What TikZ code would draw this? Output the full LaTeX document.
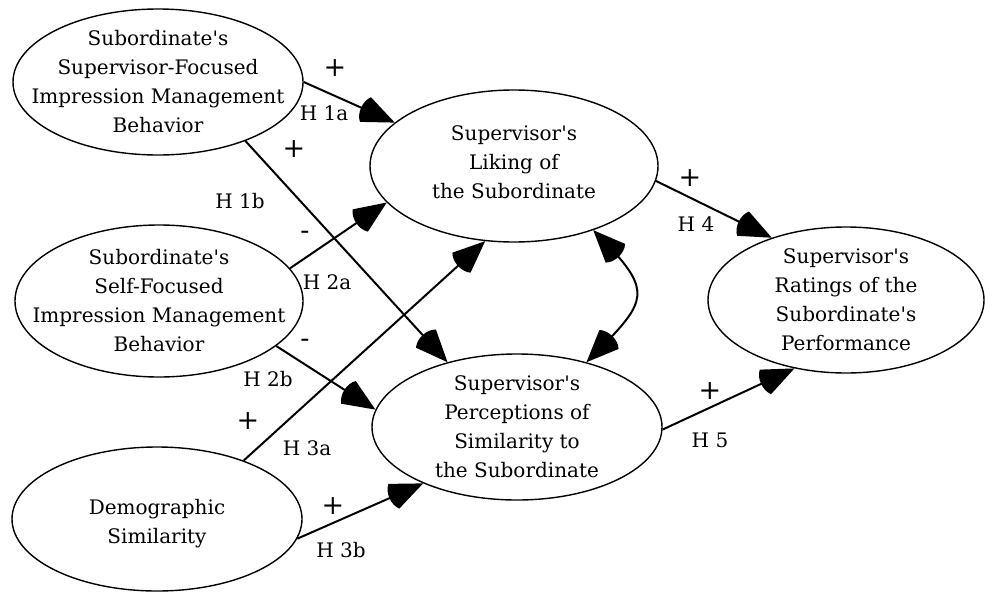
\documentclass[tikz,border=0pt]{standalone}
\usepackage{fontspec}
\setmainfont{DejaVu Serif}[Ligatures=TeXOff]
\usetikzlibrary{arrows.meta,bending,shapes.geometric}

\pgfdeclarearrow{
  name = Sector,
  defaults = {length = 32pt, width = 27pt},
  parameters = {\the\pgfarrowlength,\the\pgfarrowwidth},
  setup code = {
    \pgfarrowssettipend{0pt}
    \pgfarrowssetbackend{-1.1\pgfarrowlength}
    \pgfarrowssetlineend{-0.8\pgfarrowlength}
    \pgfarrowshullpoint{0pt}{0pt}
    \pgfarrowshullpoint{-1.2\pgfarrowlength}{0.5\pgfarrowwidth}
    \pgfarrowshullpoint{-1.2\pgfarrowlength}{-0.5\pgfarrowwidth}
    \pgfarrowssavethe\pgfarrowlength
    \pgfarrowssavethe\pgfarrowwidth
  },
  drawing code = {
    \pgfpathmoveto{\pgfpointorigin}
    \pgfpathlineto{\pgfpoint{-\pgfarrowlength}{0.5\pgfarrowwidth}}
    \pgfpathcurveto{\pgfpoint{-1.2\pgfarrowlength}{0.25\pgfarrowwidth}}{\pgfpoint{-1.2\pgfarrowlength}{-0.25\pgfarrowwidth}}{\pgfpoint{-\pgfarrowlength}{-0.5\pgfarrowwidth}}
    \pgfpathclose
    \pgfusepathqfill
  }
}

\begin{document}
\begin{tikzpicture}[x=1pt,y=-1pt,
  every node/.style={font=\fontsize{20}{29}\selectfont},
  latent/.style={draw, ellipse, line width=1.4pt, inner sep=0pt},
  txt/.style={align=center, inner sep=0pt},
  arr/.style={line width=2pt, -{Sector}},
  lbl/.style={inner sep=0pt},
  sign/.style={inner sep=0pt, font=\fontsize{27}{27}\selectfont}]
\useasboundingbox (0,0) rectangle (985,592);

\node[latent, minimum width=290pt, minimum height=146pt] (e1) at (158,82) {};
\node[txt] (t1) at (e1) {Subordinate's\\Supervisor-Focused\\Impression Management\\Behavior};
\node[latent, minimum width=288pt, minimum height=152pt] (e2) at (159,301) {};
\node[txt] (t2) at (e2) {Subordinate's\\Self-Focused\\Impression Management\\Behavior};
\node[latent, minimum width=290pt, minimum height=144pt] (e3) at (157,519) {};
\node[txt] (t3) at (157,524) {Demographic\\Similarity};
\node[latent, minimum width=288pt, minimum height=152pt] (e4) at (514,166) {};
\node[txt] (t4) at (514,162) {Supervisor's\\Liking of\\the Subordinate};
\node[latent, minimum width=290pt, minimum height=146pt] (e5) at (517,427) {};
\node[txt] (t5) at (e5) {Supervisor's\\Perceptions of\\Similarity to\\the Subordinate};
\node[latent, minimum width=276pt, minimum height=146pt] (e6) at (846,300) {};
\node[txt] (t6) at (e6) {Supervisor's\\Ratings of the\\Subordinate's\\Performance};

\draw[arr] (e1.0) -- (e4.160);
\draw[arr] (e1.-34) -- (e5.137);
\draw[arr] (e2.14) -- (e4.-164);
\draw[arr] (e2.-21) -- (e5.173);
\draw[arr] (e3.34) -- (e4.-111);
\draw[arr] (e3.-8.5) -- (e5.-149);
\draw[arr] (e4.-6) -- (e6.140);
\draw[arr] (e5.-1) -- (e6.-127);
\draw[line width=2pt, {Sector[flex]}-{Sector[flex]}] (e4.-39) to[out=-45,in=45,looseness=1.73] (e5.43);

\node[sign] (p1a) at (335,68) {+};
\node[lbl] (h1a) at (324,113) {H 1a};
\node[sign] (p1b) at (294,149) {+};
\node[lbl] (h1b) at (240,201) {H 1b};
\node[sign] (m2a) at (305,235) {-};
\node[lbl] (h2a) at (327,282) {H 2a};
\node[sign] (m2b) at (305,343) {-};
\node[lbl] (h2b) at (268,379) {H 2b};
\node[sign] (p3a) at (248,421) {+};
\node[lbl] (h3a) at (307,448) {H 3a};
\node[sign] (p3b) at (333,506) {+};
\node[lbl] (h3b) at (341,550) {H 3b};
\node[sign] (p4) at (690,178) {+};
\node[lbl] (h4) at (696,224) {H 4};
\node[sign] (p5) at (710,391) {+};
\node[lbl] (h5) at (710,440) {H 5};
\end{tikzpicture}
\end{document}
